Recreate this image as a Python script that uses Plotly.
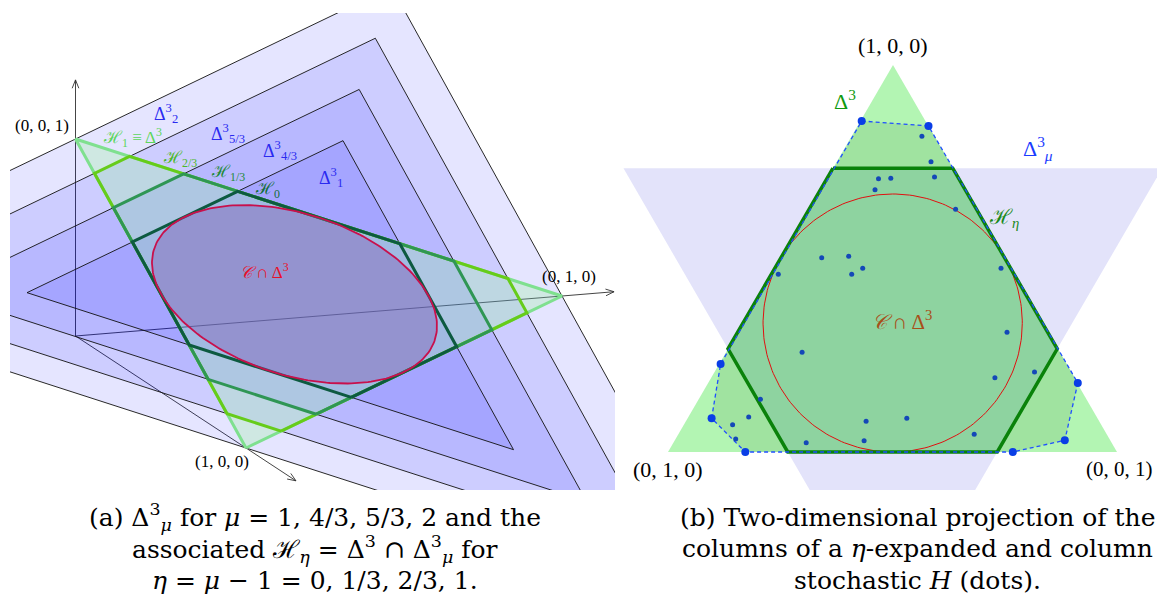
import numpy as np
import plotly.graph_objects as go

FIG_W, FIG_H = 1157, 603

# ---------------- Panel (a): 3-D view ----------------
# screen position (px) of the origin and screen images of the unit vectors e1, e2, e3
A_ORIGIN = np.array([75.5, 336.0])
A_BASIS = np.array([[170.5, 112.0],
                    [486.5, -40.0],
                    [0.0, -197.0]])
AXIS_LEN = [1.293, 1.107, 1.30]            # drawn length of the x, y, z axes

MU_VALUES = [2.0, 5 / 3, 4 / 3, 1.0]       # expanded simplices Delta^3_mu
MU_NAMES = ["2", "5/3", "4/3", "1"]
ETA_VALUES = [1.0, 2 / 3, 1 / 3, 0.0]      # H_eta = Delta^3 ∩ Delta^3_mu, eta = mu - 1
ETA_NAMES = ["1", "2/3", "1/3", "0"]

# ---------------- Panel (b): 2-D projection ----------------
# screen images (px) of the simplex vertices (1,0,0), (0,1,0), (0,0,1)
B_BASIS = np.array([[893.0, 65.0],
                    [668.0, 452.0],
                    [1117.0, 452.0]])
ETA_B = 0.2
MU_B = 1.0 + ETA_B
# columns of H (dots), read in panel (b) screen coordinates
DOT_X = [861.7, 928.5, 921.9, 931.0, 878.5, 890.8, 934.5, 875.0, 955.6, 821.7,
         848.7, 862.7, 851.7, 778.3, 1001.0, 1007.0, 802.1, 720.6, 994.9, 1034.5,
         1077.8, 760.4, 711.6, 748.7, 732.6, 735.7, 745.3, 806.2, 866.1, 906.8,
         864.1, 974.2, 1064.8, 1012.8]
DOT_Y = [121.0, 126.0, 136.3, 161.7, 178.8, 178.2, 177.0, 189.7, 209.2, 257.7,
         256.3, 268.3, 274.3, 274.3, 268.3, 332.2, 352.3, 364.0, 377.7, 372.0,
         383.0, 399.3, 418.3, 417.0, 424.7, 439.0, 452.0, 442.7, 421.3, 418.3,
         440.7, 434.3, 440.3, 452.0]

# ---------------- geometry helpers ----------------
def proj_a(p):
    return A_ORIGIN + np.asarray(p) @ A_BASIS


def proj_b(p):
    return np.asarray(p) @ B_BASIS


def expanded_simplex(mu):
    return (1 + mu) / 3 * np.ones((3, 3)) - mu * np.eye(3)


def hexagon(eta):
    b = (2 + eta) / 3
    c = 1 - b
    return np.array([[b, c, 0], [c, b, 0], [0, b, c], [0, c, b], [c, 0, b], [b, 0, c]])


def incircle(n=240):
    t = np.linspace(0, 2 * np.pi, n)
    u = np.array([1, -1, 0]) / np.sqrt(2)
    v = np.array([1, 1, -2]) / np.sqrt(6)
    r = 1 / np.sqrt(6)
    return 1 / 3 + r * (np.outer(np.cos(t), u) + np.outer(np.sin(t), v))


def closed(pts):
    pts = np.asarray(pts)
    return np.vstack([pts, pts[:1]])


def convex_hull(points):
    pts = sorted(set(points))
    def cross(o, a, b):
        return (a[0] - o[0]) * (b[1] - o[1]) - (a[1] - o[1]) * (b[0] - o[0])
    lower, upper = [], []
    for p in pts:
        while len(lower) >= 2 and cross(lower[-2], lower[-1], p) <= 0:
            lower.pop()
        lower.append(p)
    for p in reversed(pts):
        while len(upper) >= 2 and cross(upper[-2], upper[-1], p) <= 0:
            upper.pop()
        upper.append(p)
    return lower[:-1] + upper[:-1]


fig = go.Figure()


def poly(pts, xa, ya, **kw):
    pts = closed(pts)
    fig.add_trace(go.Scatter(x=pts[:, 0], y=pts[:, 1], mode="lines", xaxis=xa, yaxis=ya,
                             hoverinfo="skip", showlegend=False, **kw))


def line(pts, xa, ya, **kw):
    pts = np.asarray(pts)
    fig.add_trace(go.Scatter(x=pts[:, 0], y=pts[:, 1], mode="lines", xaxis=xa, yaxis=ya,
                             hoverinfo="skip", showlegend=False, **kw))


# ----- panel (a) -----
# coordinate axes (under the translucent sheets)
for i in range(3):
    tip = np.zeros(3)
    tip[i] = AXIS_LEN[i]
    p0, p1 = proj_a([0, 0, 0]), proj_a(tip)
    line([p0, p1], "x", "y", line=dict(color="#303030", width=0.9))
    d = (p1 - p0) / np.linalg.norm(p1 - p0)
    for ang in (0.38, -0.38):
        rot = np.array([[np.cos(ang), -np.sin(ang)], [np.sin(ang), np.cos(ang)]])
        q = p1 - 9 * (rot @ d)
        line([q, p1], "x", "y", line=dict(color="#303030", width=0.9))

for mu in MU_VALUES:
    poly(proj_a(expanded_simplex(mu)), "x", "y", fill="toself",
         fillcolor="rgba(0,0,255,0.10)", line=dict(color="#111111", width=0.9))

# the simplex Delta^3
poly(proj_a(np.eye(3)), "x", "y", fill="toself", fillcolor="rgba(150,240,150,0.28)",
     line=dict(width=0))

H_COLORS = ["#7fe08f", "#66cc1a", "#2f9654", "#0d5a40"]
for eta, col in zip(ETA_VALUES, H_COLORS):
    poly(proj_a(hexagon(eta)), "x", "y", line=dict(color=col, width=3))

poly(proj_a(incircle()), "x", "y", fill="toself", fillcolor="rgba(130,90,180,0.40)",
     line=dict(color="#c8104c", width=1.8))

# ----- panel (b) -----
poly(proj_b(np.eye(3)), "x2", "y2", fill="toself", fillcolor="#b3f5b3", line=dict(width=0))
poly(proj_b(expanded_simplex(MU_B)), "x2", "y2", fill="toself", fillcolor="#e3e3fa",
     line=dict(width=0))
pts = list(zip(DOT_X, DOT_Y))
hull = convex_hull(pts)
poly(hull, "x2", "y2", fill="toself", fillcolor="#a0e3a0", line=dict(width=0))
hexb = proj_b(hexagon(ETA_B))
poly(hexb, "x2", "y2", fill="toself", fillcolor="#8ed3a0", line=dict(width=0))
poly(proj_b(incircle()), "x2", "y2", line=dict(color="#e01010", width=1))
poly(hexb, "x2", "y2", line=dict(color="#0a820a", width=3.5))
poly(hull, "x2", "y2", line=dict(color="#1f4fff", width=1.3, dash="4px,3px"))

hull_set = set(hull)
small = [p for p in pts if p not in hull_set]
big = [p for p in pts if p in hull_set]
fig.add_trace(go.Scatter(x=[p[0] for p in small], y=[p[1] for p in small], mode="markers",
                         xaxis="x2", yaxis="y2", marker=dict(color="#1448b8", size=5),
                         hoverinfo="skip", showlegend=False))
fig.add_trace(go.Scatter(x=[p[0] for p in big], y=[p[1] for p in big], mode="markers",
                         xaxis="x2", yaxis="y2", marker=dict(color="#0a3ee6", size=8),
                         hoverinfo="skip", showlegend=False))

# ----- text -----
SERIF = "Liberation Serif, DejaVu Serif, serif"
CAP_FONT = "DejaVu Serif, Liberation Serif, serif"
ann = []


def label(x, y, text, color="black", size=16, xref="x", yref="y", xanchor="center",
          family=SERIF):
    ann.append(dict(x=x, y=y, xref=xref, yref=yref, text=text, showarrow=False,
                    font=dict(family=family, size=size, color=color), xanchor=xanchor,
                    yanchor="middle"))


# panel (a) labels
label(42, 125, "(0, 0, 1)", size=17)
label(569, 276, "(0, 1, 0)", size=17)
label(222, 461, "(1, 0, 0)", size=17)
MU_POS = [(166, 113), (228, 133), (280, 150), (331, 177)]
for (x, y), nm in zip(MU_POS, MU_NAMES):
    label(x, y, "Δ<sup>3</sup><sub>%s</sub>" % nm, color="#2a2af0", size=18)
H_LABEL_COLORS = ["#5cd65c", "#4cb82a", "#1f8a3a", "#136e3a"]
H_POS = [(132, 137), (180, 159), (228, 173), (267, 190)]
for (x, y), nm, col in zip(H_POS, ETA_NAMES, H_LABEL_COLORS):
    txt = "ℋ<sub>%s</sub>" % nm + (" ≡ Δ<sup>3</sup>" if nm == "1" else "")
    label(x, y, txt, color=col, size=17)
label(264, 271, "<i>𝒞</i> ∩ Δ<sup>3</sup>", color="#e8102a", size=17)

# panel (b) labels
label(893, 45, "(1, 0, 0)", xref="x2", yref="y2", size=22)
label(668, 469, "(0, 1, 0)", xref="x2", yref="y2", size=22)
label(1084, 469, "(0, 0, 1)", xref="x2", yref="y2", size=21, xanchor="left")
label(845, 100, "Δ<sup>3</sup>", color="#109a10", size=22, xref="x2", yref="y2")
label(1038, 148, "Δ<sup>3</sup><sub><i>μ</i></sub>", color="#1a3cff", size=22, xref="x2", yref="y2")
label(1004, 218, "ℋ<sub><i>η</i></sub>", color="#1b8a1b", size=21, xref="x2", yref="y2")
label(902, 320, "<i>𝒞</i> ∩ Δ<sup>3</sup>", color="#a8501a", size=21, xref="x2", yref="y2")

# captions
CAP = 25
cap_a = ["(a) Δ<sup>3</sup><sub><i>μ</i></sub> for <i>μ</i> = 1, 4/3, 5/3, 2 and the",
         "associated ℋ<sub><i>η</i></sub> = Δ<sup>3</sup> ∩ Δ<sup>3</sup><sub><i>μ</i></sub> for",
         "<i>η</i> = <i>μ</i> − 1 = 0, 1/3, 2/3, 1."]
cap_b = ["(b) Two-dimensional projection of the",
         "columns of a <i>η</i>-expanded and column",
         "stochastic <i>H</i> (dots)."]
for k, (ta, tb) in enumerate(zip(cap_a, cap_b)):
    yy = 1 - (517 + 31.5 * k) / FIG_H
    label(315 / FIG_W, yy, ta, size=CAP, xref="paper", yref="paper", family=CAP_FONT)
    label(917 / FIG_W, yy, tb, size=CAP, xref="paper", yref="paper", family=CAP_FONT)

ax_common = dict(visible=False, showgrid=False, zeroline=False, fixedrange=True)
fig.update_layout(
    width=FIG_W, height=FIG_H, margin=dict(l=0, r=0, t=0, b=0),
    paper_bgcolor="white", plot_bgcolor="rgba(0,0,0,0)",
    xaxis=dict(domain=[10 / FIG_W, 615 / FIG_W], range=[10, 615], **ax_common),
    yaxis=dict(domain=[1 - 490 / FIG_H, 1 - 13 / FIG_H], range=[490, 13], **ax_common),
    xaxis2=dict(domain=[620 / FIG_W, 1], range=[620, 1157], **ax_common),
    yaxis2=dict(domain=[1 - 490 / FIG_H, 1], range=[490, 0], **ax_common),
    annotations=ann,
)
fig.write_html("out.html", config={"displayModeBar": False},
               post_script="document.body.style.margin='0px';")
